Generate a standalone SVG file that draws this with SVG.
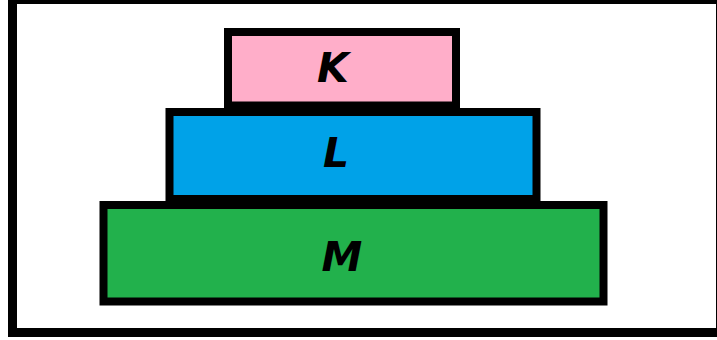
<svg xmlns="http://www.w3.org/2000/svg" width="717" height="340" viewBox="0 0 717 340">
  <style>
    .frame { fill: #ffffff; stroke: #000000; stroke-width: 9; }
    .block { stroke: #000000; stroke-width: 8; }
    .label { font-family: "DejaVu Sans", "Liberation Sans", sans-serif; font-weight: bold; font-style: italic; font-size: 41px; fill: #000000; text-anchor: middle; }
  </style>
  <rect x="0" y="0" width="717" height="340" fill="#ffffff"/>
  <!-- outer frame -->
  <rect class="frame" x="12.5" y="-0.5" width="708" height="333"/>
  <!-- stacked blocks, bottom to top -->
  <g id="block-m">
    <rect class="block" x="103.5" y="205" width="500" height="96.5" fill="#22B14C"/>
    <text class="label" x="342" y="271">M</text>
  </g>
  <g id="block-l">
    <rect class="block" x="169.5" y="112" width="367" height="87" fill="#00A2E8"/>
    <text class="label" x="336" y="167">L</text>
  </g>
  <g id="block-k">
    <rect class="block" x="228" y="32" width="228" height="73.5" fill="#FFAEC9"/>
    <text class="label" x="333" y="82">K</text>
  </g>
</svg>
